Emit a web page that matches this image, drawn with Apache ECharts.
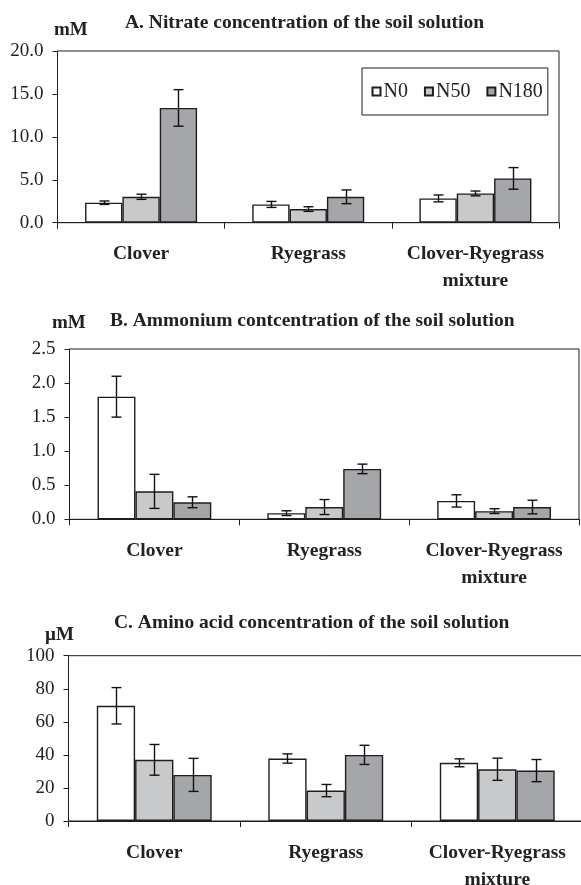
<!DOCTYPE html>
<html>
<head>
<meta charset="utf-8">
<script src="https://cdn.jsdelivr.net/npm/echarts@6/dist/echarts.min.js"></script>
<style>
html,body{margin:0;padding:0;background:#fff;}
#chart{width:581px;height:885px;}
</style>
</head>
<body>
<div id="chart"></div>
<script>
// ---- Data ----
const categories = ['Clover', 'Ryegrass', 'Clover-Ryegrass\nmixture'];
const seriesNames = ['N0', 'N50', 'N180'];

const nitrateN0 = [2.33, 2.13, 2.83];
const nitrateN50 = [3.02, 1.59, 3.41];
const nitrateN180 = [13.37, 3.02, 5.16];
const nitrateErrN0 = [0.2, 0.35, 0.4];
const nitrateErrN50 = [0.3, 0.27, 0.28];
const nitrateErrN180 = [2.13, 0.8, 1.26];

const ammoniumN0 = [1.80, 0.09, 0.27];
const ammoniumN50 = [0.41, 0.18, 0.12];
const ammoniumN180 = [0.25, 0.74, 0.18];
const ammoniumErrN0 = [0.3, 0.035, 0.09];
const ammoniumErrN50 = [0.25, 0.11, 0.035];
const ammoniumErrN180 = [0.08, 0.07, 0.1];

const aminoN0 = [69.7, 37.8, 35.2];
const aminoN50 = [37.0, 18.4, 31.3];
const aminoN180 = [27.9, 40.0, 30.5];
const aminoErrN0 = [11, 2.8, 2.4];
const aminoErrN50 = [9.3, 3.7, 6.7];
const aminoErrN180 = [10, 5.8, 6.7];

const titles = [
  'A. Nitrate concentration of the soil solution',
  'B. Ammonium contcentration of the soil solution',
  'C. Amino acid concentration of the soil solution'
];
const units = ['mM', 'mM', '\u00B5M'];
const yMax = [20, 2.5, 100];
const yInterval = [5, 0.5, 20];
const yDecimals = [1, 1, 0];

// ---- Layout / style ----
const FONT = '"Liberation Serif", "Times New Roman", serif';
const colors = ['#ffffff', '#c8c9cb', '#a5a6a9'];
const edge = '#1e1e1e';
const GAP = 0.33;

const grids = [
  {left: 57.5, right: 22, top: 51, height: 171.7},
  {left: 69.5, right: 2, top: 349, height: 170.3},
  {left: 68.5, right: -2, top: 655.7, height: 165.3}
];
const titlePos = [[125, 22.5], [110, 321], [114, 622.5]];
const unitPos = [[54, 30.5], [52, 323], [45, 635]];

const panels = [
  {vals: [nitrateN0, nitrateN50, nitrateN180], errs: [nitrateErrN0, nitrateErrN50, nitrateErrN180]},
  {vals: [ammoniumN0, ammoniumN50, ammoniumN180], errs: [ammoniumErrN0, ammoniumErrN50, ammoniumErrN180]},
  {vals: [aminoN0, aminoN50, aminoN180], errs: [aminoErrN0, aminoErrN50, aminoErrN180]}
];

const chart = echarts.init(document.getElementById('chart'), null, {renderer: 'canvas'});

const option = {
  backgroundColor: '#ffffff',
  animation: false,
  grid: grids.map(g => Object.assign({
    show: true, borderColor: edge, borderWidth: 1, backgroundColor: 'transparent',
    containLabel: false, outerBoundsMode: 'none'
  }, g)),
  xAxis: grids.map((g, i) => ({
    type: 'category',
    gridIndex: i,
    data: categories,
    axisLine: {lineStyle: {color: edge, width: 1}},
    axisTick: {show: true, length: 6, lineStyle: {color: edge}},
    axisLabel: {
      margin: 18,
      fontFamily: FONT, fontWeight: 'bold', fontSize: 19.5, color: '#222',
      lineHeight: 27, interval: 0
    },
    splitLine: {show: false}
  })),
  yAxis: grids.map((g, i) => ({
    type: 'value',
    gridIndex: i,
    min: 0, max: yMax[i], interval: yInterval[i],
    axisLine: {show: true, lineStyle: {color: edge, width: 1}},
    axisTick: {show: true, length: 5, lineStyle: {color: edge}},
    splitLine: {show: false},
    axisLabel: {
      margin: 14,
      fontFamily: FONT, fontSize: 19, color: '#222',
      formatter: v => v.toFixed(yDecimals[i])
    }
  })),
  legend: {
    data: seriesNames,
    left: 362, top: 68,
    orient: 'horizontal',
    padding: [13.5, 5, 13.5, 9.5],
    itemGap: 16,
    itemWidth: 8, itemHeight: 8,
    borderColor: edge, borderWidth: 1,
    backgroundColor: '#fff',
    icon: 'rect',
    textStyle: {fontFamily: FONT, fontSize: 20, color: '#222', padding: [0, 0, 0, -2]}
  },
  graphic: [],
  series: []
};

titles.forEach((t, i) => {
  option.graphic.push({
    type: 'text', x: titlePos[i][0], y: titlePos[i][1],
    style: {text: t, font: 'bold 19.5px ' + FONT, fill: '#222', verticalAlign: 'middle'}
  });
  option.graphic.push({
    type: 'text', x: unitPos[i][0], y: unitPos[i][1],
    style: {text: units[i], font: 'bold 19px ' + FONT, fill: '#222', verticalAlign: 'middle'}
  });
});

panels.forEach((p, gi) => {
  seriesNames.forEach((name, si) => {
    option.series.push({
      type: 'bar', name: name,
      xAxisIndex: gi, yAxisIndex: gi,
      data: p.vals[si],
      barGap: '0%', barCategoryGap: (GAP * 100) + '%',
      itemStyle: {color: colors[si], borderColor: edge, borderWidth: 1.4},
      emphasis: {disabled: true},
      z: 2
    });
  });
  seriesNames.forEach((name, si) => {
    option.series.push({
      type: 'custom',
      name: name + '-err',
      xAxisIndex: gi, yAxisIndex: gi,
      data: p.vals[si].map((v, k) => [k, v - p.errs[si][k], v + p.errs[si][k]]),
      z: 5,
      renderItem: function (params, api) {
        const k = api.value(0);
        const lo = api.coord([k, api.value(1)]);
        const hi = api.coord([k, api.value(2)]);
        const band = api.size([1, 0])[0];
        const bw = band * (1 - GAP) / 3;
        const x = Math.round(lo[0] + (si - 1) * bw) + 0.5;
        const cap = 5;
        const st = {stroke: '#111', lineWidth: 1.4, fill: null};
        return {
          type: 'group',
          children: [
            {type: 'line', shape: {x1: x, y1: lo[1], x2: x, y2: hi[1]}, style: st},
            {type: 'line', shape: {x1: x - cap, y1: lo[1], x2: x + cap, y2: lo[1]}, style: st},
            {type: 'line', shape: {x1: x - cap, y1: hi[1], x2: x + cap, y2: hi[1]}, style: st}
          ]
        };
      },
      tooltip: {show: false}
    });
  });
});

chart.setOption(option);
</script>
</body>
</html>
